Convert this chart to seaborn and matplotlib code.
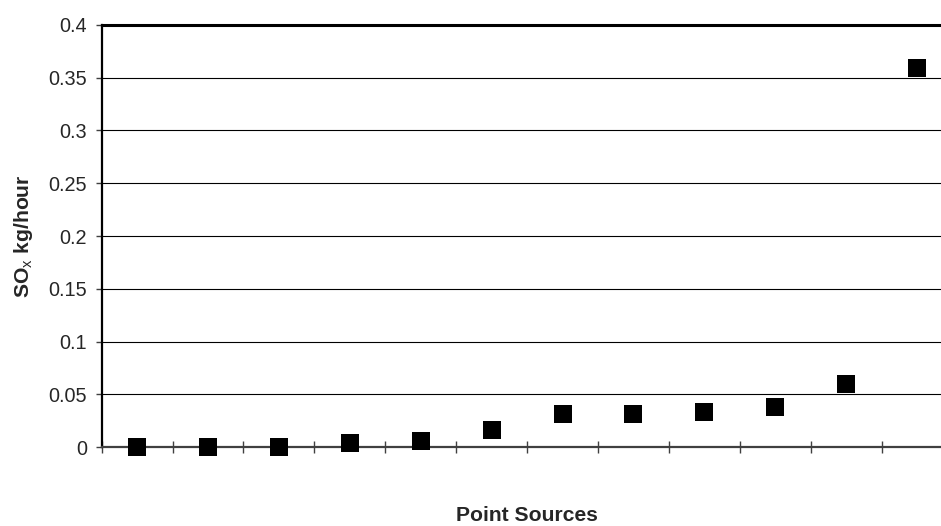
import numpy as np
import pandas as pd
import matplotlib
matplotlib.use("Agg")
import matplotlib.pyplot as plt
import seaborn as sns

# SOx emission per point source (kg/hour), sorted ascending
sources = [str(i) for i in range(1, 13)]
sox = [0.0, 0.0005, 0.0005, 0.004, 0.006, 0.0165, 0.0315, 0.0315, 0.0335, 0.038, 0.060, 0.359]
y_ticks = [0, 0.05, 0.1, 0.15, 0.2, 0.25, 0.3, 0.35, 0.4]
y_tick_labels = ["0", "0.05", "0.1", "0.15", "0.2", "0.25", "0.3", "0.35", "0.4"]

df = pd.DataFrame({"source": sources, "sox": sox})

sns.set_style("white")
plt.rcParams["font.family"] = ["Liberation Sans", "DejaVu Sans"]
plt.rcParams["mathtext.fontset"] = "custom"
plt.rcParams["mathtext.rm"] = "Liberation Sans"

fig = plt.figure(figsize=(9.41, 5.26), dpi=100)
ax = fig.add_axes([0.108, 0.1496, 0.9042, 0.8034])

sns.scatterplot(data=df, x="source", y="sox", marker="s", color="black",
                s=160, linewidth=0, ax=ax, clip_on=False, zorder=3)

ax.set_xlim(-0.5, 11.5)
ax.set_ylim(0, 0.4)
ax.set_yticks(y_ticks)
ax.set_yticklabels(y_tick_labels, fontsize=14.3)
ax.set_xticks(np.arange(-0.5, 12, 1))
ax.set_xticklabels([])

ax.yaxis.grid(True, color="black", linewidth=0.8)
ax.set_axisbelow(True)

ax.spines["right"].set_visible(False)
ax.spines["top"].set_linewidth(2.2)
ax.spines["top"].set_color("black")
ax.spines["left"].set_linewidth(1.6)
ax.spines["left"].set_color("black")
ax.spines["bottom"].set_linewidth(1.6)
ax.spines["bottom"].set_color("#404040")

ax.tick_params(axis="y", direction="out", length=4.5, width=1, color="#404040",
               left=True, pad=6)
ax.tick_params(axis="x", direction="inout", length=8, width=1, color="#404040",
               bottom=True)

ax.set_xlabel("Point Sources", fontsize=15.2, fontweight="bold", labelpad=35)
ax.set_ylabel(r"SO$_\mathrm{x}$ kg/hour", fontsize=15.2, fontweight="bold", labelpad=10)

fig.savefig("out.png", dpi=100)
